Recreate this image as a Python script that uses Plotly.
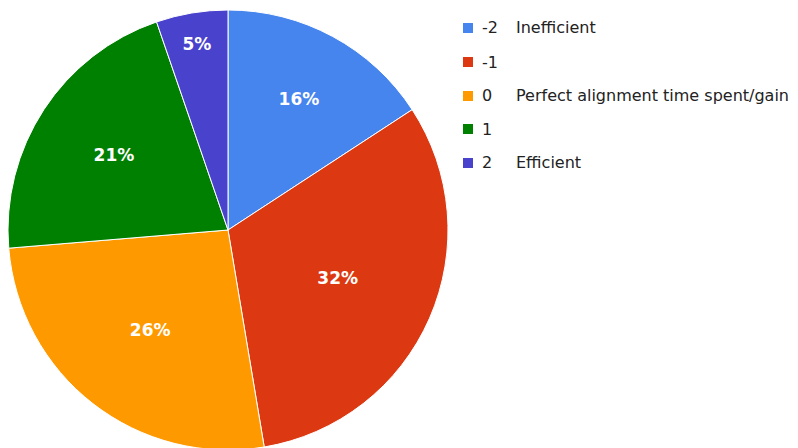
import plotly.graph_objects as go

codes = ["-2", "-1", "0", "1", "2"]
descriptions = ["Inefficient", "", "Perfect alignment time spent/gain", "", "Efficient"]
counts = [3, 6, 5, 4, 1]
colors = ["#4684ee", "#dc3912", "#ff9900", "#008000", "#4942cc"]

W, H = 798, 448
# the page body adds an 8px margin; positions below are in figure pixels

fig = go.Figure()
fig.add_trace(go.Pie(
    labels=codes,
    values=counts,
    sort=False,
    direction="clockwise",
    rotation=0,
    marker=dict(colors=colors, line=dict(color="white", width=1)),
    texttemplate="<b>%{percent:.0%}</b>",
    textposition="inside",
    insidetextorientation="horizontal",
    textfont=dict(family="DejaVu Sans", size=17, color="white"),
    domain=dict(x=[0, 440 / W], y=[1 - 442 / H, 1 - 2 / H]),
    showlegend=False,
    hoverinfo="label+value+percent",
))

# manual legend
row_y = [20, 54, 88, 121, 155]
for i, (c, d, col) in enumerate(zip(codes, descriptions, colors)):
    yc = row_y[i]
    fig.add_shape(type="rect", xref="paper", yref="paper",
                  x0=455 / W, x1=465 / W, y0=1 - (yc + 5) / H, y1=1 - (yc - 5) / H,
                  fillcolor=col, line=dict(width=0))
    fig.add_annotation(xref="paper", yref="paper", x=472 / W, y=1 - yc / H,
                       text=c, showarrow=False, xanchor="left", yanchor="middle",
                       font=dict(family="DejaVu Sans", size=16, color="#222222"))
    if d:
        fig.add_annotation(xref="paper", yref="paper", x=506 / W, y=1 - yc / H,
                           text=d, showarrow=False, xanchor="left", yanchor="middle",
                           font=dict(family="DejaVu Sans", size=16, color="#222222"))

fig.update_layout(
    width=W, height=H,
    margin=dict(l=0, r=0, t=0, b=0),
    paper_bgcolor="white",
    plot_bgcolor="white",
)

fig.write_html("out.html")
